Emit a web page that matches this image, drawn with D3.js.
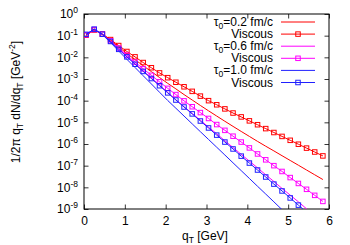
<!DOCTYPE html>
<html>
<head>
<meta charset="utf-8">
<script src="https://cdn.jsdelivr.net/npm/d3@7"></script>
<style>
    body { margin: 0; background: #fff; }
    text { font-family: "Liberation Sans", Arial, sans-serif; fill: #000; }
</style>
</head>
<body>
<div id="chart"></div>
<script>
// transverse momentum grid (GeV)
const qT = [0.05, 0.25, 0.45, 0.65, 0.85, 1.05, 1.25, 1.45, 1.65, 1.85,
    2.05, 2.25, 2.45, 2.65, 2.85, 3.05, 3.25, 3.45, 3.65, 3.85,
    4.05, 4.25, 4.45, 4.65, 4.85, 5.05, 5.25, 5.45, 5.65, 5.85];

// tau0 = 0.2 fm/c
const ideal02 = [1.05e-1, 1.82e-1, 1.15e-1, 6.0e-2, 3.0e-2, 1.51e-2, 7.8e-3, 4.1e-3, 2.19e-3, 1.17e-3,
    6.3e-4, 3.5e-4, 1.91e-4, 1.07e-4, 6.0e-5, 3.4e-5, 1.95e-5, 1.12e-5, 6.5e-6, 3.8e-6,
    2.24e-6, 1.32e-6, 7.9e-7, 4.8e-7, 2.88e-7, 1.74e-7, 1.05e-7, 6.3e-8, 3.8e-8, 2.29e-8];
const visc02 = [1.05e-1, 1.82e-1, 1.20e-1, 6.6e-2, 3.5e-2, 1.86e-2, 1.05e-2, 5.75e-3, 3.31e-3, 1.91e-3,
    1.15e-3, 7.08e-4, 4.37e-4, 2.69e-4, 1.62e-4, 1.0e-4, 6.46e-5, 4.17e-5, 2.69e-5, 1.78e-5,
    1.17e-5, 7.76e-6, 5.13e-6, 3.39e-6, 2.24e-6, 1.48e-6, 9.77e-7, 6.46e-7, 4.27e-7, 2.82e-7];

// tau0 = 0.6 fm/c
const ideal06 = [1.12e-1, 1.95e-1, 1.15e-1, 5.25e-2, 2.4e-2, 1.10e-2, 5.1e-3, 2.4e-3, 1.12e-3, 5.25e-4,
    2.4e-4, 1.10e-4, 5.25e-5, 2.57e-5, 1.26e-5, 6.0e-6, 2.95e-6, 1.41e-6, 6.9e-7, 3.3e-7,
    1.62e-7, 7.9e-8, 3.8e-8, 1.86e-8, 8.9e-9, 4.37e-9, 2.14e-9, 1.02e-9, 5.0e-10, 2.4e-10];
const visc06 = [1.10e-1, 1.91e-1, 1.17e-1, 5.75e-2, 2.69e-2, 1.26e-2, 6.0e-3, 2.95e-3, 1.48e-3, 7.4e-4,
    3.7e-4, 1.91e-4, 9.8e-5, 5.25e-5, 2.82e-5, 1.51e-5, 7.9e-6, 4.27e-6, 2.29e-6, 1.23e-6,
    6.6e-7, 3.47e-7, 1.86e-7, 1.0e-7, 5.4e-8, 2.82e-8, 1.51e-8, 8.1e-9, 4.27e-9, 2.24e-9];

// tau0 = 1.0 fm/c
const ideal10 = [1.15e-1, 2.0e-1, 1.12e-1, 4.8e-2, 1.95e-2, 8.1e-3, 3.4e-3, 1.41e-3, 5.9e-4, 2.45e-4,
    1.02e-4, 4.47e-5, 1.95e-5, 8.5e-6, 3.7e-6, 1.62e-6, 7.1e-7, 3.1e-7, 1.35e-7, 5.9e-8,
    2.57e-8, 1.12e-8, 4.9e-9, 2.14e-9, 9.3e-10, 4.1e-10];
const visc10 = [1.15e-1, 2.0e-1, 1.17e-1, 5.4e-2, 2.34e-2, 1.05e-2, 4.8e-3, 2.24e-3, 1.05e-3, 4.9e-4,
    2.29e-4, 1.07e-4, 5.1e-5, 2.45e-5, 1.15e-5, 5.5e-6, 2.57e-6, 1.23e-6, 5.9e-7, 2.75e-7,
    1.32e-7, 6.3e-8, 3.0e-8, 1.41e-8, 6.8e-9, 3.24e-9, 1.51e-9, 7.2e-10, 3.47e-10, 1.66e-10];

const legendLabels = ["=0.2 fm/c", "Viscous", "=0.6 fm/c", "Viscous", "=1.0 fm/c", "Viscous"];
const xTicks = [0, 1, 2, 3, 4, 5, 6];
const yTicks = [1e0, 1e-1, 1e-2, 1e-3, 1e-4, 1e-5, 1e-6, 1e-7, 1e-8, 1e-9];

const series = [
    {values: ideal02, color: "#ff0000", points: false, tau: true, label: legendLabels[0]},
    {values: visc02, color: "#ff0000", points: true, tau: false, label: legendLabels[1]},
    {values: ideal06, color: "#ff00ff", points: false, tau: true, label: legendLabels[2]},
    {values: visc06, color: "#ff00ff", points: true, tau: false, label: legendLabels[3]},
    {values: ideal10, color: "#2020ff", points: false, tau: true, label: legendLabels[4]},
    {values: visc10, color: "#2020ff", points: true, tau: false, label: legendLabels[5]}
];

const config = {
    containerWidth: 350,
    containerHeight: 245,
    margin: {top: 14, right: 21, bottom: 36, left: 84}
};
const width = config.containerWidth - config.margin.left - config.margin.right;
const height = config.containerHeight - config.margin.top - config.margin.bottom;

const svg = d3.select("#chart").append("svg")
    .attr("width", config.containerWidth)
    .attr("height", config.containerHeight);

const chart = svg.append("g")
    .attr("transform", `translate(${config.margin.left}, ${config.margin.top})`);

const x = d3.scaleLinear().domain([0, 6]).range([0, width]);
const y = d3.scaleLog().domain([1e-9, 1]).range([height, 0]);

svg.append("defs").append("clipPath").attr("id", "clip")
    .append("rect").attr("width", width).attr("height", height);

// axes, ticks pointing inwards, mirrored on top/right
const tickLen = 4.5;
chart.append("g")
    .attr("transform", `translate(0, ${height})`)
    .call(d3.axisBottom(x).tickValues(xTicks).tickSize(-tickLen).tickPadding(7.5).tickFormat(d3.format("d")));
chart.append("g")
    .call(d3.axisTop(x).tickValues(xTicks).tickSize(-tickLen).tickFormat(""));
const yAxis = chart.append("g")
    .call(d3.axisLeft(y).tickValues(yTicks).tickSize(-tickLen).tickPadding(6).tickFormat(() => ""));
chart.append("g")
    .attr("transform", `translate(${width}, 0)`)
    .call(d3.axisRight(y).tickValues(yTicks).tickSize(-tickLen).tickFormat(""));

chart.selectAll(".domain").remove();
chart.selectAll(".tick line").attr("stroke", "#000").attr("stroke-width", 0.8);
chart.selectAll(".tick text").style("font-size", "12px").style("font-family", "'Liberation Sans', Arial, sans-serif");

yAxis.selectAll(".tick text").each(function (d) {
    const t = d3.select(this);
    t.append("tspan").text("10");
    t.append("tspan").attr("baseline-shift", "5").style("font-size", "8.5px").text(Math.round(Math.log10(d)));
});

chart.append("rect")
    .attr("width", width).attr("height", height)
    .attr("fill", "none").attr("stroke", "#000").attr("stroke-width", 1);

// curves
const line = d3.line()
    .x((d, i) => x(qT[i]))
    .y(d => y(d));

const plot = chart.append("g").attr("clip-path", "url(#clip)");
const sq = 4.5;

series.forEach(s => {
    plot.append("path")
        .datum(s.values)
        .attr("fill", "none")
        .attr("stroke", s.color)
        .attr("stroke-width", 1)
        .attr("d", line);
    if (s.points) {
        plot.append("g").selectAll("rect")
            .data(s.values.filter(v => v >= 1e-9))
            .enter().append("rect")
            .attr("x", (d, i) => x(qT[i]) - sq / 2)
            .attr("y", d => y(d) - sq / 2)
            .attr("width", sq).attr("height", sq)
            .attr("fill", "none")
            .attr("stroke", s.color)
            .attr("stroke-width", 1);
    }
});

// legend
const legend = svg.append("g");
series.forEach((s, i) => {
    const ly = 22 + i * 12.1;
    const t = legend.append("text")
        .attr("x", 273).attr("y", ly + 4)
        .attr("text-anchor", "end")
        .style("font-size", "12px");
    if (s.tau) {
        t.append("tspan").text("τ");
        t.append("tspan").attr("baseline-shift", "-3").style("font-size", "8.5px").text("0");
        t.append("tspan").text(s.label);
    } else {
        t.text(s.label);
    }
    legend.append("line")
        .attr("x1", 281).attr("x2", 315).attr("y1", ly).attr("y2", ly)
        .attr("stroke", s.color).attr("stroke-width", 1);
    if (s.points) {
        legend.append("rect")
            .attr("x", 298 - sq / 2).attr("y", ly - sq / 2)
            .attr("width", sq).attr("height", sq)
            .attr("fill", "none").attr("stroke", s.color).attr("stroke-width", 1);
    }
});

// axis titles
const xl = svg.append("text")
    .attr("x", 205).attr("y", 240)
    .attr("text-anchor", "middle")
    .style("font-size", "12px");
xl.append("tspan").text("q");
xl.append("tspan").attr("baseline-shift", "-3").style("font-size", "8.5px").text("T");
xl.append("tspan").text(" [GeV]");

const yl = svg.append("text")
    .attr("transform", "translate(20, 102) rotate(-90)")
    .attr("text-anchor", "middle")
    .style("font-size", "12px");
yl.append("tspan").text("1/2π q");
yl.append("tspan").attr("baseline-shift", "-3").style("font-size", "8.5px").text("T");
yl.append("tspan").text(" dN/dq");
yl.append("tspan").attr("baseline-shift", "-3").style("font-size", "8.5px").text("T");
yl.append("tspan").text(" [GeV");
yl.append("tspan").attr("baseline-shift", "5").style("font-size", "8.5px").text("-2");
yl.append("tspan").text("]");
</script>
</body>
</html>
